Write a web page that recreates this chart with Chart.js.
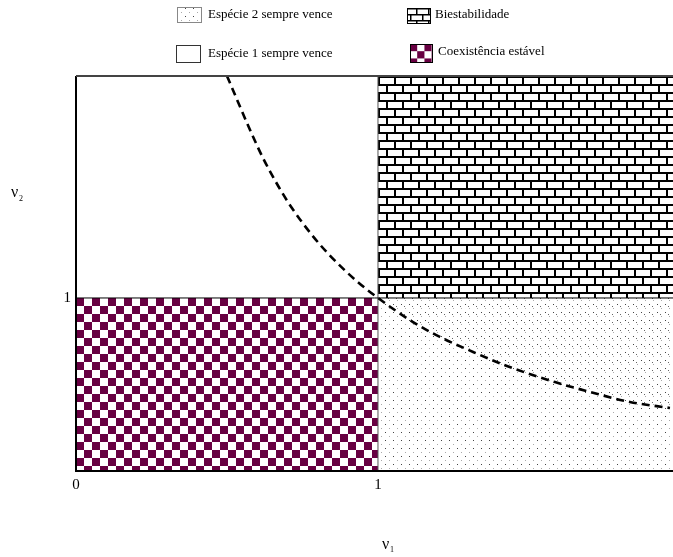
<!DOCTYPE html>
<html lang="pt">
<head>
    <meta charset="UTF-8">
    <title>Regiões de competição</title>
    <script src="https://cdn.jsdelivr.net/npm/chart.js@4.4.1/dist/chart.umd.min.js"></script>
    <style>
        html, body { margin: 0; padding: 0; background: #fff; }
        #wrap { width: 673px; height: 557px; }
    </style>
</head>
<body>
    <div id="wrap"><canvas id="chart" width="673" height="557"></canvas></div>

    <script>
        // axis limits and ticks
        const xMax = 1.977;
        const yMax = 2.283;
        const xTicks = [0, 1];
        const yTicks = [1];

        // dashed boundary curve
        const curveX = [0.50, 0.583, 0.619, 0.672, 0.715, 0.78, 0.841, 0.930, 1.0, 1.116, 1.205, 1.315, 1.427, 1.586, 1.702, 1.834, 1.967];
        const curveY = [2.283, 1.945, 1.81, 1.64, 1.52, 1.367, 1.245, 1.097, 1.0, 0.861, 0.775, 0.688, 0.607, 0.514, 0.457, 0.399, 0.364];

        const legendLabels = ['Espécie 2 sempre vence', 'Espécie 1 sempre vence', 'Biestabilidade', 'Coexistência estável'];

        const maroon = 'rgb(104,0,66)';
        const serif = '"Liberation Serif", "Times New Roman", serif';

        function makeTile(w, h, draw, bg) {
            const c = document.createElement('canvas');
            c.width = w; c.height = h;
            const g = c.getContext('2d');
            if (bg !== false) {
                g.fillStyle = '#fff';
                g.fillRect(0, 0, w, h);
            }
            draw(g);
            return c;
        }

        const ctx0 = document.getElementById('chart').getContext('2d');

        const checkerTile = makeTile(16, 16, g => {
            g.fillStyle = maroon;
            g.fillRect(0, 0, 8, 8);
            g.fillRect(8, 8, 8, 8);
        });
        const brickTile = makeTile(16, 16, g => {
            g.fillStyle = '#000';
            g.fillRect(0, 0, 16, 2);
            g.fillRect(0, 8, 16, 2);
            g.fillRect(0, 0, 2, 8);
            g.fillRect(8, 8, 2, 8);
        });
        const dotTile = makeTile(8, 8, g => {
            g.fillStyle = '#444';
            g.fillRect(1, 0, 1, 1);
            g.fillStyle = '#aaa';
            g.fillRect(5, 4, 1, 1);
        });
        const dotTile2 = makeTile(8, 8, g => {
            g.fillStyle = '#666';
            g.fillRect(4, 2, 1, 1);
        }, false);

        function pattern(tile, ox, oy, s) {
            const p = ctx0.createPattern(tile, 'repeat');
            if (ox !== undefined) p.setTransform(new DOMMatrix().translate(ox, oy).scale(s || 1));
            return p;
        }

        const checker = pattern(checkerTile, 76, 298);
        const brick = pattern(brickTile, 378, 76);
        const dots = pattern(dotTile);
        const dots2 = pattern(dotTile2);

        const curve = curveX.map((x, i) => ({ x: x, y: curveY[i] }));
        const curveRight = curve.filter(p => p.x >= 1);

        const region = {
            showLine: true, pointRadius: 0, borderWidth: 0, tension: 0
        };

        const decor = {
            id: 'decor',
            afterDatasetsDraw(chart) {
                const { ctx, chartArea: a, scales: { x, y } } = chart;
                ctx.save();
                // frame
                ctx.strokeStyle = '#000';
                ctx.lineWidth = 2;
                ctx.beginPath();
                ctx.moveTo(a.left, a.top);
                ctx.lineTo(a.left, a.bottom);
                ctx.lineTo(a.right, a.bottom);
                ctx.stroke();
                ctx.strokeStyle = '#444';
                ctx.beginPath();
                ctx.moveTo(a.left, a.top);
                ctx.lineTo(a.right, a.top);
                ctx.stroke();

                // tick labels
                ctx.fillStyle = '#000';
                ctx.font = '15px ' + serif;
                ctx.textBaseline = 'middle';
                ctx.textAlign = 'center';
                xTicks.forEach(v => ctx.fillText(String(v), x.getPixelForValue(v), a.bottom + 14));
                ctx.textAlign = 'right';
                yTicks.forEach(v => ctx.fillText(String(v), a.left - 5, y.getPixelForValue(v)));

                // axis titles
                ctx.textAlign = 'left';
                ctx.font = '16px ' + serif;
                ctx.fillText('ν', 382, 545);
                ctx.fillText('ν', 11, 193);
                ctx.font = '8px ' + serif;
                ctx.fillText('1', 390, 550);
                ctx.fillText('2', 19, 199);

                // legend
                const boxes = [
                    { x: 177, y: 7, w: 24, h: 15, fill: dots, stroke: '#888', tx: 208, ty: 15 },
                    { x: 176, y: 45, w: 24, h: 17, fill: '#fff', stroke: '#333', tx: 208, ty: 54 },
                    { x: 407, y: 8, w: 23, h: 15, fill: pattern(brickTile, 404, 8, 0.75), stroke: '#000', tx: 435, ty: 15 },
                    { x: 410, y: 44, w: 22, h: 18, fill: pattern(checkerTile, 410, 44, 0.9), stroke: '#000', tx: 438, ty: 52 }
                ];
                ctx.font = '13px ' + serif;
                ctx.textAlign = 'left';
                boxes.forEach((b, i) => {
                    ctx.fillStyle = b.fill;
                    ctx.fillRect(b.x, b.y, b.w, b.h);
                    ctx.lineWidth = 1;
                    ctx.strokeStyle = b.stroke;
                    ctx.strokeRect(b.x + 0.5, b.y + 0.5, b.w, b.h);
                    ctx.fillStyle = '#000';
                    ctx.fillText(legendLabels[i], b.tx, b.ty);
                });
                ctx.restore();
            }
        };

        new Chart('chart', {
            type: 'scatter',
            data: {
                datasets: [
                    {
                        ...region, label: 'curve', data: curve,
                        borderColor: '#000', borderWidth: 2.6, borderDash: [8, 5],
                        cubicInterpolationMode: 'monotone',
                        fill: false, order: 0
                    },
                    {
                        ...region, label: 'y=1', data: [{ x: 0, y: 1 }, { x: xMax, y: 1 }],
                        borderColor: '#000', borderWidth: 1, fill: false, order: 1
                    },
                    {
                        ...region, label: 'x=1', data: [{ x: 1, y: 0 }, { x: 1, y: yMax }],
                        borderColor: '#555', borderWidth: 1, fill: false, order: 1
                    },
                    {
                        ...region, label: legendLabels[0] + ' (extra)', data: curveRight,
                        cubicInterpolationMode: 'monotone',
                        backgroundColor: dots2, fill: { value: 1 }, order: 4
                    },
                    {
                        ...region, label: legendLabels[0], data: [{ x: 1, y: 1 }, { x: xMax, y: 1 }],
                        backgroundColor: dots, fill: 'origin', order: 5
                    },
                    {
                        ...region, label: legendLabels[2], data: [{ x: 1, y: yMax }, { x: xMax, y: yMax }],
                        backgroundColor: brick, fill: { value: 1 }, order: 5
                    },
                    {
                        ...region, label: legendLabels[3], data: [{ x: 0, y: 1 }, { x: 1, y: 1 }],
                        backgroundColor: checker, fill: 'origin', order: 5
                    }
                ]
            },
            options: {
                responsive: false,
                animation: false,
                layout: { padding: { left: 76, top: 76, right: 0, bottom: 86 } },
                plugins: { legend: { display: false }, tooltip: { enabled: false } },
                scales: {
                    x: { type: 'linear', min: 0, max: xMax, display: false },
                    y: { type: 'linear', min: 0, max: yMax, display: false }
                }
            },
            plugins: [decor]
        });
    </script>
</body>
</html>
